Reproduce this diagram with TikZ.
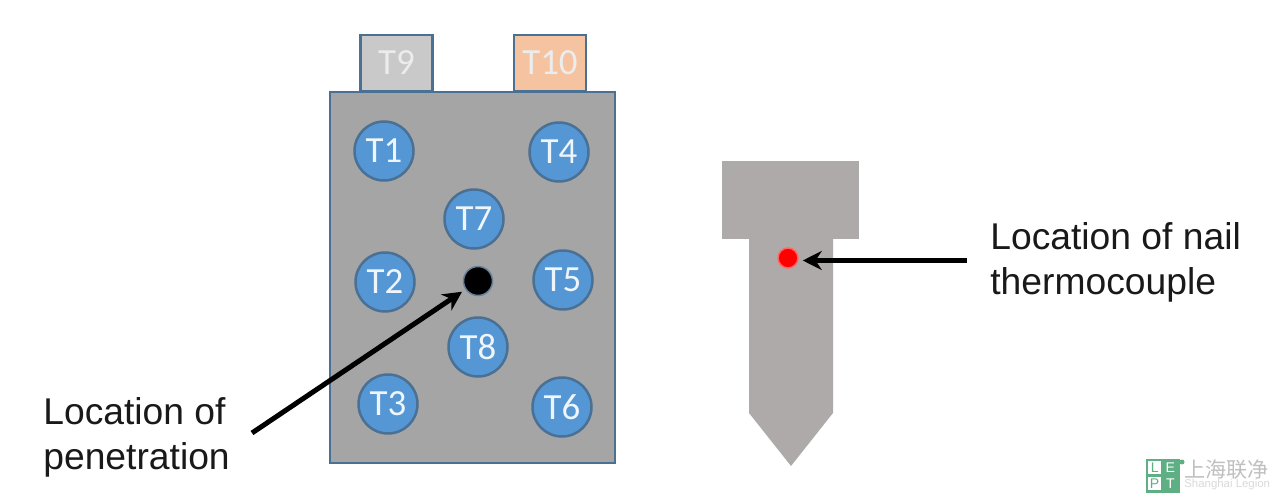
\documentclass[tikz,border=0pt]{standalone}
\usepackage{fontspec}
\setmainfont{Carlito}
\newfontfamily\cjkfont{Noto Sans CJK SC}
\newfontfamily\labelfont{Liberation Sans}
\usepackage{xcolor}
\usetikzlibrary{arrows.meta, positioning}
\definecolor{bodygray}{HTML}{A5A5A5}
\definecolor{nailgray}{HTML}{AEAAAA}
\definecolor{edgeblue}{HTML}{4A7094}
\definecolor{tcblue}{HTML}{5596D5}
\definecolor{tabpeach}{HTML}{F5C3A0}
\definecolor{logogreen}{HTML}{5FAF85}
\tikzset{
  tc/.style={
    circle,
    draw=edgeblue,
    line width=0.05cm,
    fill=tcblue,
    minimum size=1.18cm,
    inner sep=0pt,
    text=white!90!tcblue,
    font=\fontsize{21}{21}\selectfont
  },
  tab/.style={
    rectangle,
    draw=edgeblue,
    line width=0.05cm,
    minimum width=1.44cm,
    minimum height=1.12cm,
    inner sep=0pt,
    text=white!85!gray,
    font=\fontsize{21}{21}\selectfont
  },
  callout/.style={
    align=left,
    inner sep=0pt,
    font=\labelfont\fontsize{21.2}{25.6}\selectfont,
    text=black!90
  },
  pointer/.style={
    line width=0.1cm,
    -{Stealth[length=0.38cm,width=0.38cm]},
    shorten >=0.08cm,
    black
  },
  logocell/.style={
    rectangle,
    minimum size=0.26cm,
    inner sep=0pt,
    font=\labelfont\fontsize{8}{8}\selectfont
  }
}
\begin{document}
\begin{tikzpicture}[x=0.02cm, y=-0.02cm]
  \useasboundingbox (0,0) rectangle (1280,503);

  % BATTERY CELL
  \node (T9)  [tab, fill=black!21] at (396.5,63) {T9};
  \node (T10) [tab, fill=tabpeach] at (550,63) {T10};
  \node (cell) [rectangle, draw=edgeblue, line width=0.05cm, fill=bodygray, minimum width=5.7cm, minimum height=7.42cm, inner sep=0pt] at (472.5,277.5) {};

  \node (T1) [tc] at (384,151) {T1};
  \node (T2) [tc] at (385,282) {T2};
  \node (T3) [tc] at (388,404) {T3};
  \node (T4) [tc] at (559,152) {T4};
  \node (T5) [tc] at (563,280) {T5};
  \node (T6) [tc] at (562,407) {T6};
  \node (T7) [tc] at (474,219) {T7};
  \node (T8) [tc] at (478,347) {T8};
  \node (hole) [circle, draw=edgeblue!70!bodygray, line width=0.03cm, fill=black, minimum size=0.58cm, inner sep=0pt] at (478,281) {};

  % NAIL
  \node (nail) [draw=none, fill=nailgray, inner sep=0pt, minimum width=2.74cm, minimum height=1.56cm] at (790.5,200) {};
  \fill[nailgray] (749,238) -- (833,238) -- (833,413) -- (791,466) -- (749,413) -- cycle;
  \node (nailtc) [circle, draw=red!60!white, line width=0.03cm, fill=red, minimum size=0.4cm, inner sep=0pt] at (788,258) {};

  % LABELS
  \node (penlabel) [callout, anchor=west] at (43,437) {Location of\\penetration};
  \node (naillabel) [callout, anchor=west] at (990,262) {Location of nail\\thermocouple};
  \coordinate (penstart) at (252,433);
  \coordinate (nailstart) at (967,260.5);
  \draw[pointer] (penstart) -- (hole);
  \draw[pointer] (nailstart) -- (nailtc.east |- nailstart);

  % LOGO
  \node (logo) [rectangle, fill=logogreen, minimum size=0.68cm, inner sep=0pt] at (1162.5,475.5) {};
  \node (logoL) [logocell, anchor=south east, fill=white, text=logogreen] at ([xshift=-0.02cm, yshift=0.02cm]logo.center) {L};
  \node (logoE) [logocell, anchor=south west, text=white] at ([xshift=0.02cm, yshift=0.02cm]logo.center) {E};
  \node (logoP) [logocell, anchor=north east, fill=white, text=logogreen] at ([xshift=-0.02cm, yshift=-0.02cm]logo.center) {P};
  \node (logoT) [logocell, anchor=north west, text=white] at ([xshift=0.02cm, yshift=-0.02cm]logo.center) {T};
  \node (logomark) [circle, fill=logogreen, minimum size=0.1cm, inner sep=0pt] at (1182,462) {};
  \node (logocn) [anchor=west, inner sep=0pt, text=black!25, font=\cjkfont\fontsize{12}{12}\selectfont] at (1184,470) {上海联净};
  \node (logoen) [anchor=west, inner sep=0pt, text=black!15, font=\labelfont\fontsize{6.5}{6.5}\selectfont] at (1184,485) {Shanghai Legion};
\end{tikzpicture}
\end{document}
